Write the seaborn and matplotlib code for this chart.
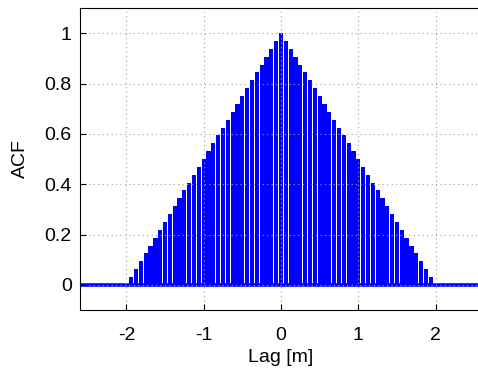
import numpy as np
import pandas as pd
import seaborn as sns
import matplotlib
matplotlib.use('Agg')
import matplotlib.pyplot as plt

# lag axis: step of 1/16 m, non-zero part of the ACF
lag_step = 1 / 16
lags = np.arange(-31, 32) * lag_step
acf = [0.031, 0.062, 0.094, 0.125, 0.156, 0.188, 0.219, 0.25, 0.281, 0.312,
       0.344, 0.375, 0.406, 0.438, 0.469, 0.5, 0.531, 0.562, 0.594, 0.625,
       0.656, 0.688, 0.719, 0.75, 0.781, 0.812, 0.844, 0.875, 0.906, 0.938,
       0.969, 1.0,
       0.969, 0.938, 0.906, 0.875, 0.844, 0.812, 0.781, 0.75, 0.719, 0.688,
       0.656, 0.625, 0.594, 0.562, 0.531, 0.5, 0.469, 0.438, 0.406, 0.375,
       0.344, 0.312, 0.281, 0.25, 0.219, 0.188, 0.156, 0.125, 0.094, 0.062,
       0.031]
xticks = [-2, -1, 0, 1, 2]
yticks = [0, 0.2, 0.4, 0.6, 0.8, 1]
ytick_labels = ['0', '0.2', '0.4', '0.6', '0.8', '1']

df = pd.DataFrame({'lag': lags, 'acf': acf})

plt.rcParams['font.family'] = ['Liberation Sans', 'DejaVu Sans']

f = plt.figure(figsize=(4.78, 3.81), dpi=100)
ax = f.add_axes([80 / 478, 71 / 381, 402 / 478, 302 / 381])

sns.barplot(data=df, x='lag', y='acf', native_scale=True, color='#0000ff',
            saturation=1, width=0.88, errorbar=None, edgecolor='none', ax=ax)
ax.axhline(0, color='#0000ff', lw=2.6, zorder=1.5)

ax.set_xlim(-2.6, 2.6)
ax.set_ylim(-0.1, 1.1)
ax.set_xticks(xticks)
ax.set_xticklabels([str(t) for t in xticks])
ax.set_yticks(yticks)
ax.set_yticklabels(ytick_labels)
ax.tick_params(axis='both', direction='in', length=4, width=0.8, labelsize=14)
ax.tick_params(axis='x', pad=12)
ax.tick_params(axis='y', pad=6)
ax.grid(True, color='#a0a0a0', linestyle=(0, (1, 3)), linewidth=0.8)
ax.set_axisbelow(False)
for s in ax.spines.values():
    s.set_linewidth(0.8)
    s.set_zorder(5)

ax.set_xlabel('Lag [m]', fontsize=14, labelpad=4)
ax.set_ylabel('ACF', fontsize=14, labelpad=11)

f.savefig('out.png', dpi=100)
plt.close('all')
